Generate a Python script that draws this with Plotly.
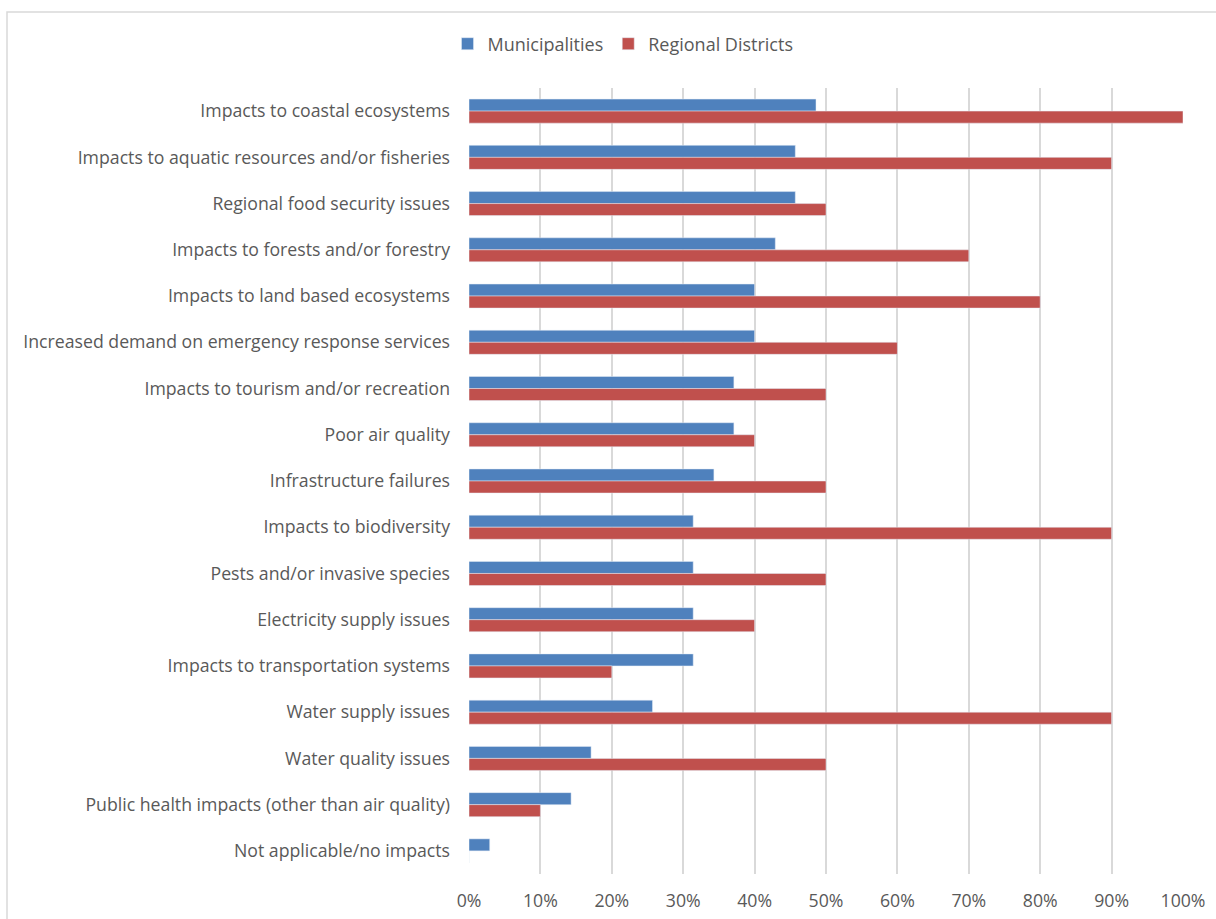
import plotly.graph_objects as go

categories = [
    "Impacts to coastal ecosystems",
    "Impacts to aquatic resources and/or fisheries",
    "Regional food security issues",
    "Impacts to forests and/or forestry",
    "Impacts to land based ecosystems",
    "Increased demand on emergency response services",
    "Impacts to tourism and/or recreation",
    "Poor air quality",
    "Infrastructure failures",
    "Impacts to biodiversity",
    "Pests and/or invasive species",
    "Electricity supply issues",
    "Impacts to transportation systems",
    "Water supply issues",
    "Water quality issues",
    "Public health impacts (other than air quality)",
    "Not applicable/no impacts",
]

municipalities = [48.6, 45.7, 45.7, 42.9, 40.0, 40.0, 37.1, 37.1, 34.3, 31.4,
                  31.4, 31.4, 31.4, 25.7, 17.1, 14.3, 2.9]
regional_districts = [100, 90, 50, 70, 80, 60, 50, 40, 50, 90,
                      50, 40, 20, 90, 50, 10, 0]

x_ticks = [0, 10, 20, 30, 40, 50, 60, 70, 80, 90, 100]
x_tick_labels = ["0%", "10%", "20%", "30%", "40%", "50%",
                 "60%", "70%", "80%", "90%", "100%"]

FONT = "Open Sans, Liberation Sans, sans-serif"
TEXT = "#595959"

fig = go.Figure()
fig.add_trace(go.Bar(name="Municipalities", y=categories, x=municipalities,
                     orientation="h", marker=dict(color="#4F81BD")))
fig.add_trace(go.Bar(name="Regional Districts", y=categories, x=regional_districts,
                     orientation="h", marker=dict(color="#C0504D")))

W, H = 1216, 919
L, R, T, B = 469, 33, 88, 45
pw, ph = W - L - R, H - T - B

fig.update_layout(
    width=W, height=H,
    margin=dict(l=L, r=R, t=T, b=B),
    paper_bgcolor="white", plot_bgcolor="white",
    barmode="group", bargap=0.48, bargroupgap=0,
    font=dict(family=FONT, color=TEXT, size=17.7),
    legend=dict(orientation="h", x=(623 - L) / pw, xanchor="center",
                y=1 + (T - 44) / ph, yanchor="middle",
                font=dict(size=18, color=TEXT), itemwidth=30,
                traceorder="normal"),
    xaxis=dict(range=[0, 100], tickmode="array", tickvals=x_ticks,
               ticktext=x_tick_labels, automargin=False,
               showgrid=True, gridcolor="#D9D9D9", gridwidth=1.5,
               zeroline=False, showline=False, ticks="",
               ticklabelstandoff=14,
               tickfont=dict(size=17.7, color=TEXT)),
    yaxis=dict(autorange="reversed", showgrid=False, showline=False,
               ticks="", ticklabelstandoff=18, automargin=False,
               tickfont=dict(size=17.7, color=TEXT)),
    shapes=[dict(type="rect", xref="paper", yref="paper",
                 x0=(7 - L) / pw, x1=(W + 20 - L) / pw,
                 y0=-(B + 20) / ph, y1=1 + (T - 12) / ph,
                 line=dict(color="#D9D9D9", width=1.5), layer="below")],
)

fig.write_html("out.html")
